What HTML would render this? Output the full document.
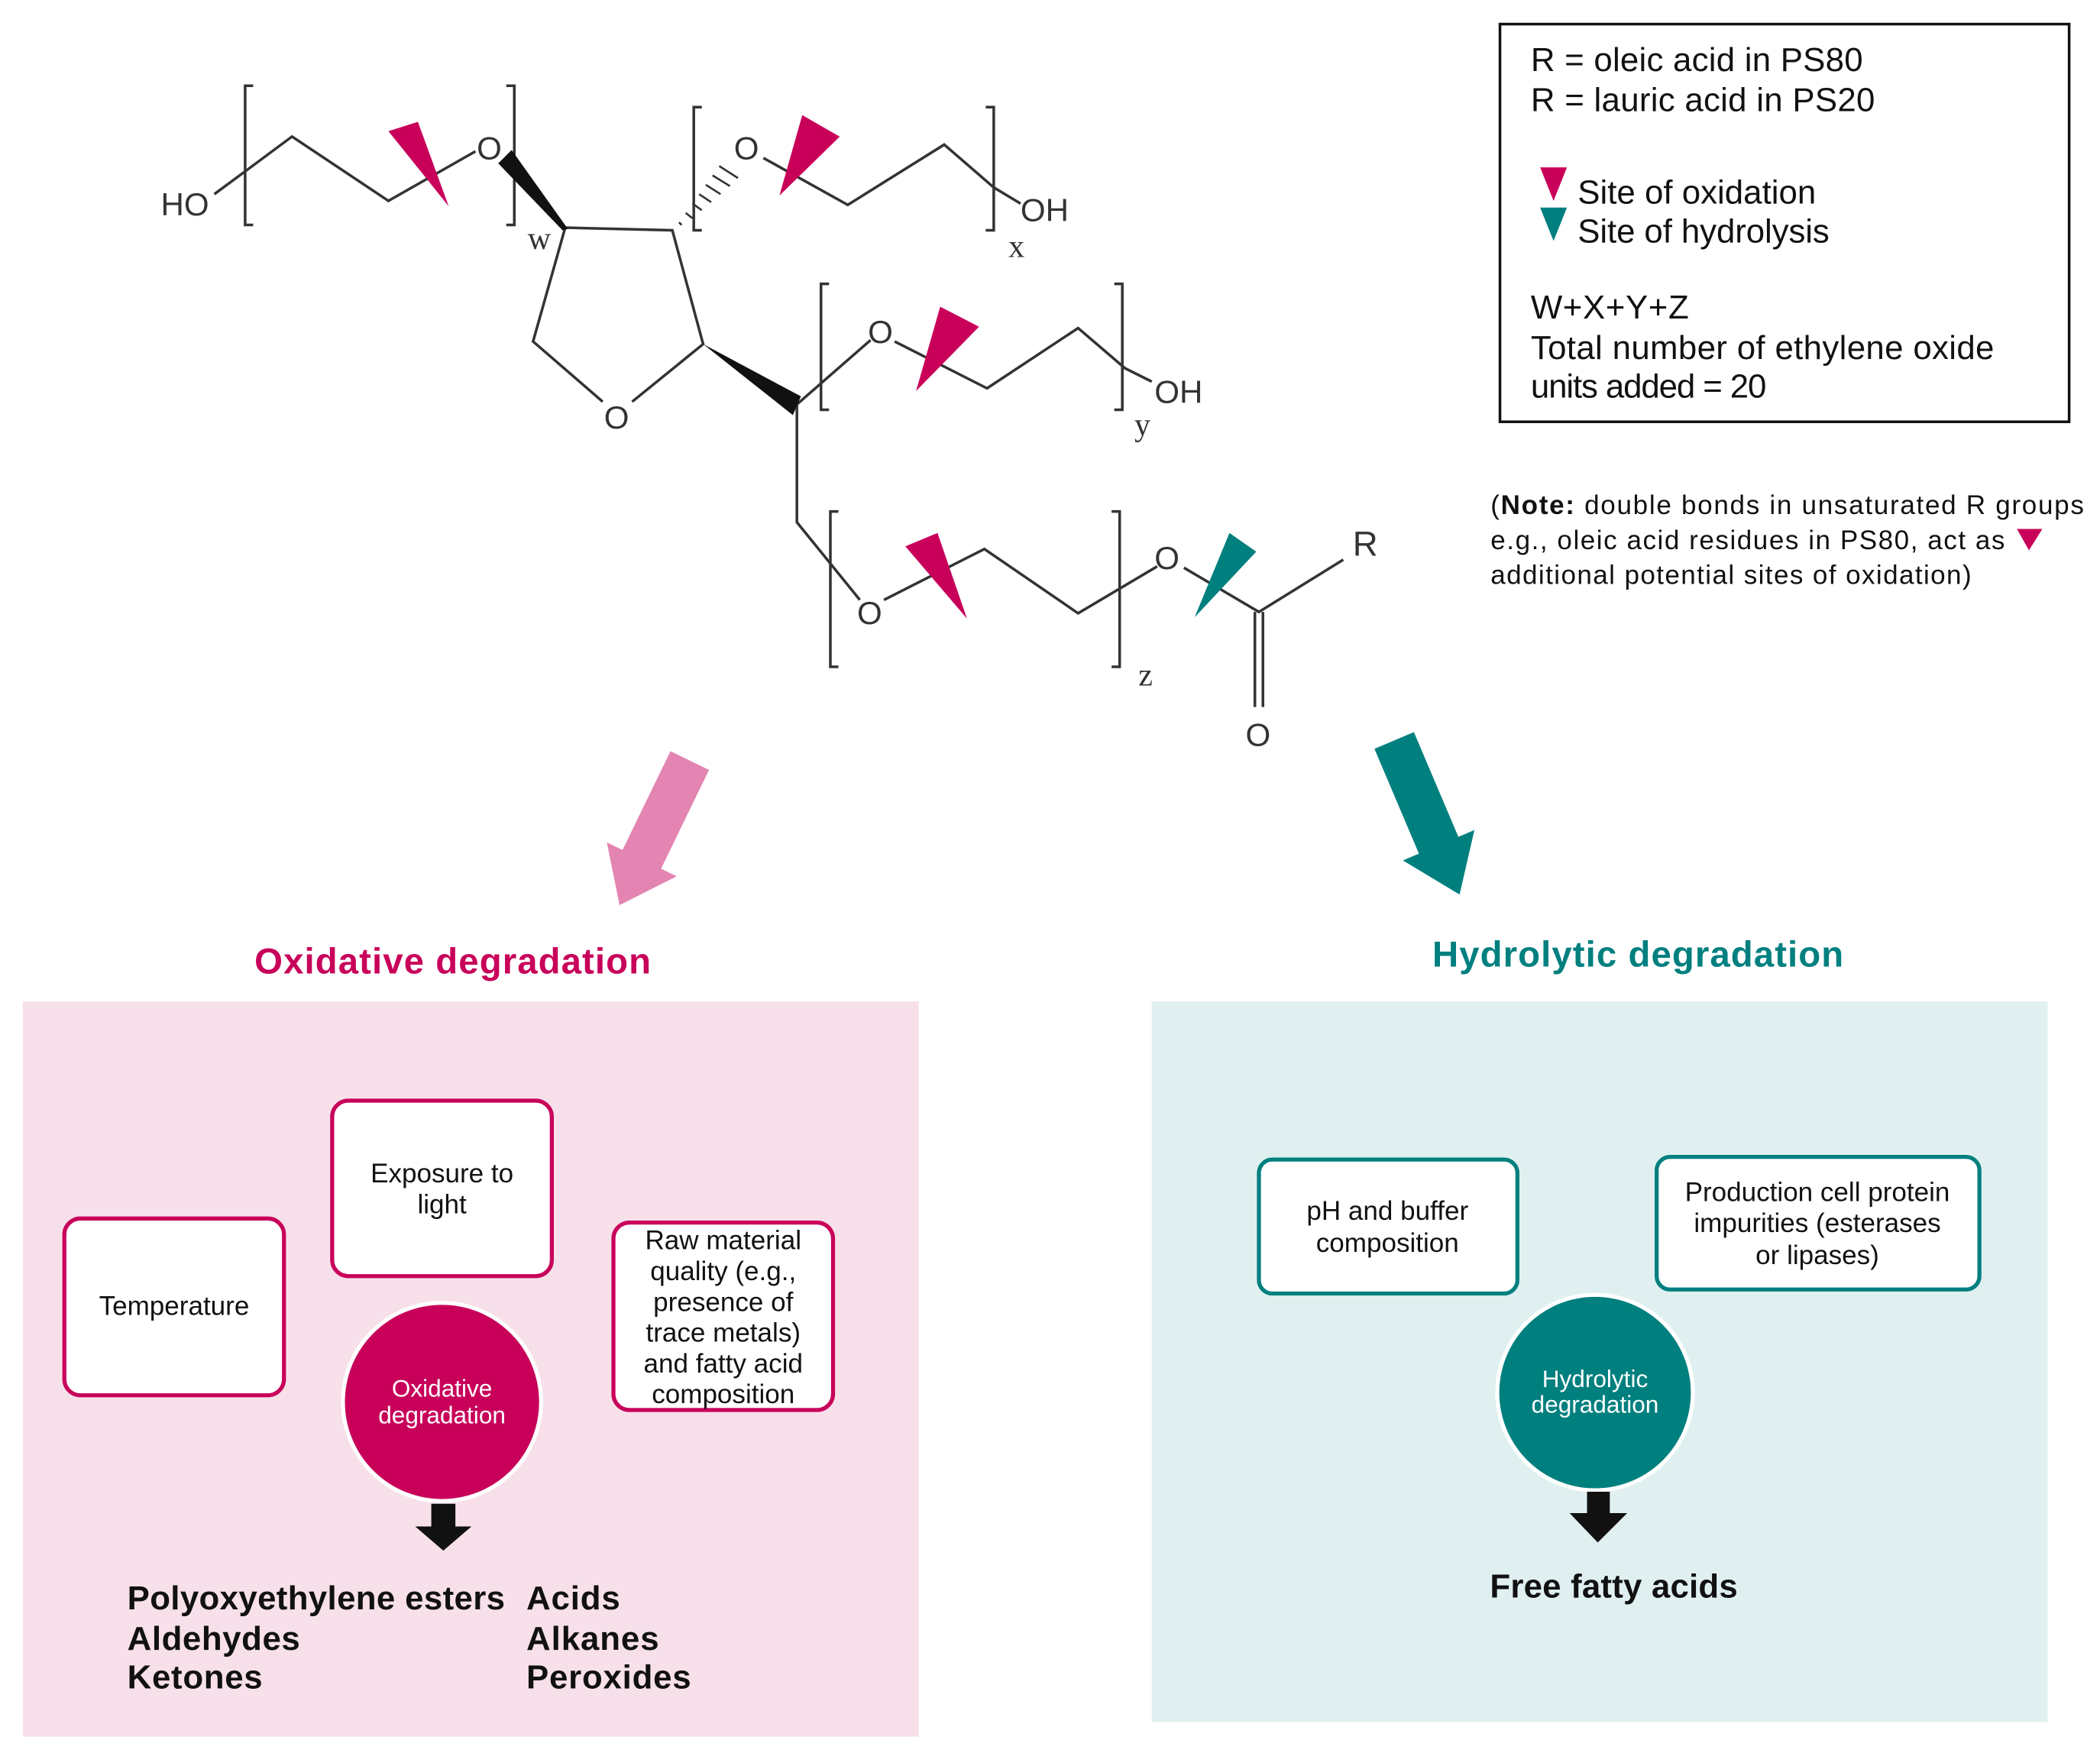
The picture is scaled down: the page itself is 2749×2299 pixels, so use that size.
<!DOCTYPE html>
<html><head><meta charset="utf-8"><style>
html,body{margin:0;padding:0;background:#fff}
svg{display:block}
text{font-family:"Liberation Sans",Arial,sans-serif}
.s{font-family:"Liberation Serif",serif}
</style></head><body>
<svg width="2749" height="2299" viewBox="0 0 1568 1311.4" xmlns="http://www.w3.org/2000/svg">
<g stroke="#333" stroke-width="2" fill="none">
<path d="M189,64 H183 V168 H189"/><path d="M378,64 H384 V168 H378"/>
<path d="M160,145 L183,128 L218,102 L290,150 L355,113"/>
<path d="M422,170 L502,172 L525,257 L472,300 M450,300 L398,255 L422,170"/>
<path d="M524,80 H518 V172 H524"/><path d="M736,80 H742 V172 H736"/>
<path d="M570,118 L633,153 L705,108 L742,140 L762,152"/>
<path d="M619,212 H613 V306 H619"/><path d="M832,212 H838 V306 H832"/>
<path d="M595,302 L650,254 M668,255 L737,290 L805,245 L840,275 L860,285"/>
<path d="M595,302 L595,390 L642,448"/>
<path d="M626,382 H620 V498 H626"/><path d="M830,382 H836 V498 H830"/>
<path d="M660,448 L735,410 L805,458 L864,423"/>
<path d="M884,424 L940,457 L1003,418"/>
<path d="M937,457 V528 M943,457 V528"/>
</g>
<polygon points="372,122 382,112 424,171 420,172" fill="#111"/>
<polygon points="525,257 598,296 592,310" fill="#111"/>
<g stroke="#333" stroke-width="1.5">
<line x1="507" y1="166" x2="509" y2="168"/><line x1="512" y1="159" x2="517" y2="163"/><line x1="517" y1="152" x2="524" y2="157"/><line x1="522" y1="145" x2="531" y2="151"/><line x1="527" y1="138" x2="538" y2="145"/><line x1="532" y1="131" x2="545" y2="139"/><line x1="537" y1="124" x2="551" y2="133"/>
</g>
<g fill="#c8005a">
<polygon points="290,98 312,91 335,154"/>
<polygon points="599,86 627,102 582,146"/>
<polygon points="702,229 731,244 684,292"/>
<polygon points="676,408 700,398 722,462"/>
</g>
<polygon points="918,398 938,412 892,461" fill="#007f7f"/>
<g font-size="24" fill="#333">
<text x="120" y="161">HO</text>
<text x="356" y="119">O</text>
<text x="548" y="119">O</text>
<text x="762" y="165">OH</text>
<text x="451" y="320">O</text>
<text x="648" y="256">O</text>
<text x="862" y="301">OH</text>
<text x="640" y="466">O</text>
<text x="862" y="425">O</text>
<text x="1010" y="415" font-size="26">R</text>
<text x="930" y="557">O</text>
</g>
<g font-size="24" fill="#333" class="s">
<text x="394" y="186" class="s">w</text>
<text x="753" y="192" class="s">x</text>
<text x="847" y="325" class="s">y</text>
<text x="850" y="512" class="s">z</text>
</g>
<rect x="1120" y="18" width="425" height="297" fill="none" stroke="#111" stroke-width="2"/>
<g font-size="25" fill="#111">
<text x="1143" y="53" textLength="248">R = oleic acid in PS80</text>
<text x="1143" y="83" textLength="257">R = lauric acid in PS20</text>
<text x="1178" y="152" textLength="178">Site of oxidation</text>
<text x="1178" y="181" textLength="188">Site of hydrolysis</text>
<text x="1143" y="238" textLength="118">W+X+Y+Z</text>
<text x="1143" y="268" textLength="346">Total number of ethylene oxide</text>
<text x="1143" y="297" textLength="176">units added = 20</text>
</g>
<polygon points="1150,125 1170,125 1160,150" fill="#c8005a"/>
<polygon points="1150,155 1170,155 1160,180" fill="#007f7f"/>
<g font-size="20" fill="#111">
<text x="1113" y="384" textLength="443">(<tspan font-weight="bold">Note:</tspan> double bonds in unsaturated R groups</text>
<text x="1113" y="410" textLength="384">e.g., oleic acid residues in PS80, act as</text>
<text x="1113" y="436" textLength="359">additional potential sites of oxidation)</text>
</g>
<polygon points="1506,395 1525,395 1515,411" fill="#c8005a"/>
<g transform="translate(515,568) rotate(25.9)"><polygon points="-16,0 16,0 16,82 29,82 0,120 -29,82 -16,82" fill="#e384b2"/></g>
<g transform="translate(1041,553) rotate(-23)"><polygon points="-16,0 16,0 16,85 29,85 0,125 -29,85 -16,85" fill="#007f7f"/></g>
<text x="338" y="727" font-size="27" font-weight="bold" fill="#c8005a" text-anchor="middle" textLength="296">Oxidative degradation</text>
<text x="1223" y="722" font-size="27" font-weight="bold" fill="#007f7f" text-anchor="middle" textLength="307">Hydrolytic degradation</text>
<rect x="17" y="748" width="669" height="549" fill="#f7e0ea"/>
<rect x="860" y="748" width="669" height="538" fill="#e0f0f0"/>
<g fill="#fff" stroke="#c8005a" stroke-width="3">
<rect x="48" y="910" width="164" height="132" rx="12"/>
<rect x="248" y="822" width="164" height="131" rx="12"/>
<rect x="458" y="913" width="164" height="140" rx="12"/>
</g>
<circle cx="330" cy="1047" r="74" fill="#c8005a" stroke="#fff" stroke-width="3"/>
<g font-size="20" fill="#111" text-anchor="middle">
<text x="130" y="982">Temperature</text>
<text x="330" y="883">Exposure to</text>
<text x="330" y="906">light</text>
<text x="540" y="933">Raw material</text>
<text x="540" y="956">quality (e.g.,</text>
<text x="540" y="979">presence of</text>
<text x="540" y="1002">trace metals)</text>
<text x="540" y="1025">and fatty acid</text>
<text x="540" y="1048">composition</text>
</g>
<g font-size="18" fill="#fff" text-anchor="middle">
<text x="330" y="1043">Oxidative</text>
<text x="330" y="1063">degradation</text>
</g>
<polygon points="322,1123 340,1123 340,1140 352,1140 331,1158 310,1140 322,1140" fill="#111"/>
<g font-size="25" font-weight="bold" fill="#111">
<text x="95" y="1202" textLength="282">Polyoxyethylene esters</text>
<text x="95" y="1232" textLength="129">Aldehydes</text>
<text x="95" y="1261" textLength="101">Ketones</text>
<text x="393" y="1202" textLength="70">Acids</text>
<text x="393" y="1232" textLength="99">Alkanes</text>
<text x="393" y="1261" textLength="123">Peroxides</text>
</g>
<g fill="#fff" stroke="#007f7f" stroke-width="3">
<rect x="940" y="866" width="193" height="100" rx="10"/>
<rect x="1237" y="864" width="241" height="99" rx="10"/>
</g>
<circle cx="1191" cy="1040" r="73" fill="#007f7f" stroke="#fff" stroke-width="3"/>
<g font-size="20" fill="#111" text-anchor="middle">
<text x="1036" y="911">pH and buffer</text>
<text x="1036" y="935">composition</text>
<text x="1357" y="897">Production cell protein</text>
<text x="1357" y="920">impurities (esterases</text>
<text x="1357" y="944">or lipases)</text>
</g>
<g font-size="18" fill="#fff" text-anchor="middle">
<text x="1191" y="1036">Hydrolytic</text>
<text x="1191" y="1055">degradation</text>
</g>
<polygon points="1185,1114 1202,1114 1202,1130 1215,1130 1193,1152 1172,1130 1185,1130" fill="#111"/>
<text x="1205" y="1193" font-size="25" font-weight="bold" fill="#111" text-anchor="middle" textLength="185">Free fatty acids</text>
</svg>
</body></html>
